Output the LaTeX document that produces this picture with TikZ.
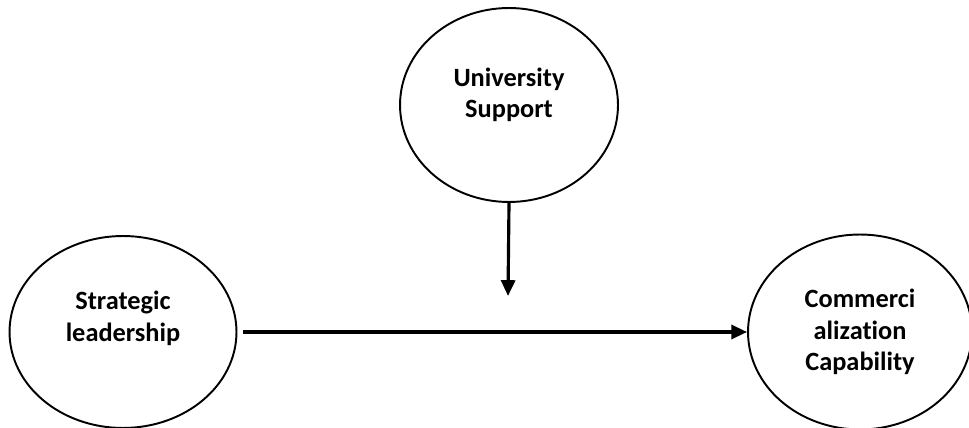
\documentclass[tikz,border=0pt]{standalone}
\usepackage{fontspec}
\setmainfont{Carlito}[Ligatures=NoCommon]
\usetikzlibrary{shapes.geometric,arrows.meta}

\tikzset{
  construct/.style={draw,ellipse,line width=1.1pt,align=center,inner sep=0pt,
    font=\fontsize{15}{18}\selectfont\bfseries},
  arr/.style={line width=1.8pt,-{Triangle[length=9pt,width=8pt]}}
}

\begin{document}
\begin{tikzpicture}[x=0.02cm,y=-0.02cm]
\useasboundingbox (0,0) rectangle (969,428);
% constructs
\node[construct,minimum width=4.36cm,minimum height=3.88cm,text depth=14pt] (us) at (509,105)
 {University\\ Support};
\node[construct,minimum width=4.54cm,minimum height=3.84cm,text depth=18pt] (sl) at (123,332)
 {Strategic\\ leadership};
\node[construct,minimum width=4.48cm,minimum height=3.9cm] (cc) at (860,332)
 {Commerci\\ alization\\ Capability};
\coordinate (mid) at (508,296);
% paths
\draw[arr] (us.south) -- (mid);
\draw[arr,shorten <=3pt] (sl.east) -- (sl.east -| cc.west);
\end{tikzpicture}
\end{document}
